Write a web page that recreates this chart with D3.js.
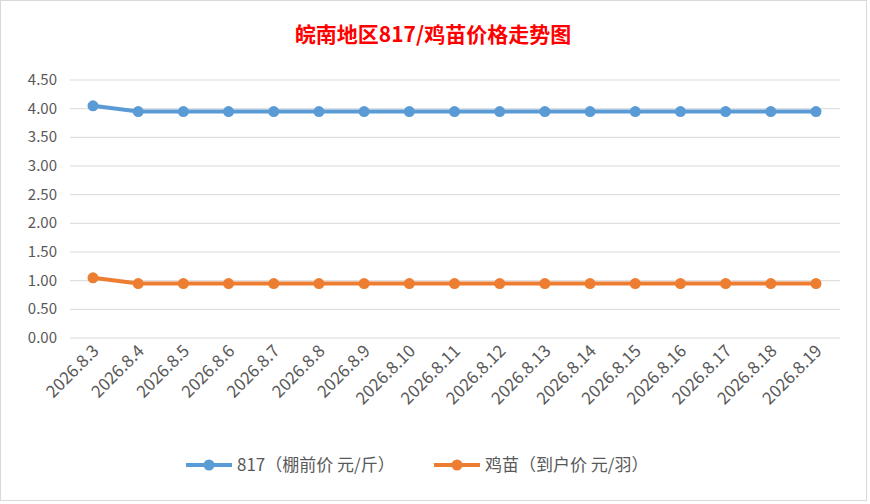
<!DOCTYPE html><html><head><meta charset="utf-8"><script src="https://cdn.jsdelivr.net/npm/d3@7"></script>
<style>body{margin:0;background:#fff}</style></head><body><svg id="c" width="870" height="504"></svg>
<script>
const categories=["2026.8.3","2026.8.4","2026.8.5","2026.8.6","2026.8.7","2026.8.8","2026.8.9","2026.8.10","2026.8.11","2026.8.12","2026.8.13","2026.8.14","2026.8.15","2026.8.16","2026.8.17","2026.8.18","2026.8.19"];
const s817=[4.05,3.95,3.95,3.95,3.95,3.95,3.95,3.95,3.95,3.95,3.95,3.95,3.95,3.95,3.95,3.95,3.95];
const sChick=[1.05,0.95,0.95,0.95,0.95,0.95,0.95,0.95,0.95,0.95,0.95,0.95,0.95,0.95,0.95,0.95,0.95];
const yTicks=[0,0.5,1,1.5,2,2.5,3,3.5,4,4.5];
const names=["817（棚前价 元/斤）","鸡苗（到户价 元/羽）"];
const colors=["#5b9bd5","#ed7d31"];
const svg=d3.select("#c");
const font="'Noto Sans CJK SC','Noto Sans',sans-serif";
svg.append("rect").attr("x",0.5).attr("y",0.5).attr("width",866).attr("height",500).attr("fill","#fff").attr("stroke","#d9d9d9");
const x=d3.scalePoint().domain(categories).range([93,816]);
const y=d3.scaleLinear().domain([0,4.5]).range([338,80]);
svg.append("g").selectAll("line").data(yTicks).join("line").attr("x1",70).attr("x2",840).attr("y1",d=>y(d)).attr("y2",d=>y(d)).attr("stroke","#d9d9d9");
svg.append("g").selectAll("text").data(yTicks).join("text").attr("x",57).attr("y",d=>y(d)+5).attr("text-anchor","end").attr("fill","#595959").attr("font-family",font).attr("font-size",15).text(d=>d.toFixed(2));
svg.append("g").selectAll("text").data(categories).join("text").attr("transform",d=>`translate(${x(d)+7},${352}) rotate(-45)`).attr("text-anchor","end").attr("fill","#595959").attr("font-family",font).attr("font-size",17).text(d=>d);
[s817,sChick].forEach((s,i)=>{
 svg.append("path").datum(s).attr("fill","none").attr("stroke",colors[i]).attr("stroke-width",4).attr("d",d3.line().x((d,j)=>x(categories[j])).y(d=>y(d)));
 svg.append("g").selectAll("circle").data(s).join("circle").attr("cx",(d,j)=>x(categories[j])).attr("cy",d=>y(d)).attr("r",5.5).attr("fill",colors[i]);
});
svg.append("text").attr("x",433).attr("y",42).attr("text-anchor","middle").attr("fill","#ff0000").attr("font-weight","bold").attr("font-family",font).attr("font-size",21).text("皖南地区817/鸡苗价格走势图");
const lx=[186,434];
names.forEach((n,i)=>{
 svg.append("line").attr("x1",lx[i]).attr("x2",lx[i]+46).attr("y1",465).attr("y2",465).attr("stroke",colors[i]).attr("stroke-width",4);
 svg.append("circle").attr("cx",lx[i]+23).attr("cy",465).attr("r",5.5).attr("fill",colors[i]);
 svg.append("text").attr("x",lx[i]+51).attr("y",471).attr("fill","#595959").attr("font-family",font).attr("font-size",17).text(n);
});
</script></body></html>
